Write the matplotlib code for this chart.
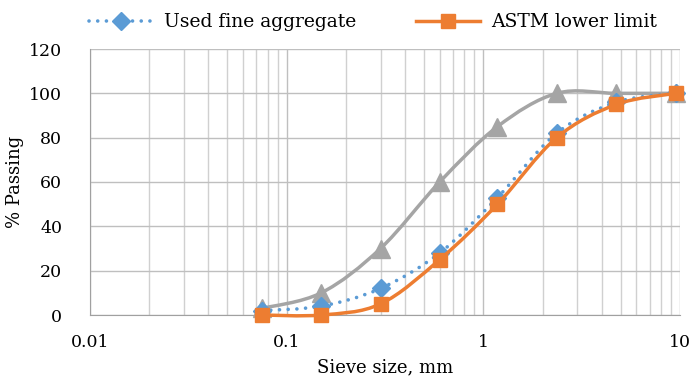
import matplotlib

matplotlib.use("Agg")
import matplotlib.pyplot as plt
import numpy as np
from matplotlib.patches import PathPatch
from matplotlib.path import Path
from matplotlib.ticker import FixedLocator, LogLocator, NullFormatter

sieve_mm = [0.075, 0.15, 0.3, 0.6, 1.18, 2.36, 4.75, 9.5]
used_fine = [2, 4, 12, 28, 53, 82, 96, 100]
astm_lower = [0, 0, 5, 25, 50, 80, 95, 100]
astm_upper = [3, 10, 30, 60, 85, 100, 100, 100]

BLUE = "#5B9BD5"
ORANGE = "#ED7D31"
GRAY = "#A5A5A5"

plt.rcParams["font.family"] = ["DejaVu Serif"]


def smooth_path(xs, ys):
    # Catmull-Rom style bezier in (log x, y) space, like spreadsheet smoothed lines
    lx = np.log10(xs)
    ys = np.asarray(ys, dtype=float)
    pts = np.column_stack([lx, ys])
    verts = [pts[0]]
    codes = [Path.MOVETO]
    n = len(pts)
    for i in range(n - 1):
        p0 = pts[max(i - 1, 0)]
        p1 = pts[i]
        p2 = pts[i + 1]
        p3 = pts[min(i + 2, n - 1)]
        c1 = p1 + (p2 - p0) / 6.0
        c2 = p2 - (p3 - p1) / 6.0
        verts += [c1, c2, p2]
        codes += [Path.CURVE4] * 3
    verts = np.array(verts)
    verts[:, 0] = 10 ** verts[:, 0]
    return Path(verts, codes)


fig = plt.figure(figsize=(6.94, 3.86), dpi=100)
ax = fig.add_axes([90 / 694, 71 / 386, 590 / 694, 266 / 386])
ax.set_xscale("log")
ax.set_xlim(0.01, 10)
ax.set_ylim(0, 120)

dotted = (0, (0.01, 2.4))
series = [
    (used_fine, BLUE, "D", 9, dotted, 2.6, "Used fine aggregate", 3),
    (astm_lower, ORANGE, "s", 10, "-", 2.5, "ASTM lower limit", 4),
    (astm_upper, GRAY, "^", 13, "-", 2.5, "ASTM upper limit", 2),
]
handles = []
for vals, color, marker, ms, ls, lw, label, z in series:
    patch = PathPatch(smooth_path(sieve_mm, vals), facecolor="none", edgecolor=color,
                      linestyle=ls, linewidth=lw, capstyle="round", zorder=z, clip_on=False)
    ax.add_patch(patch)
    ax.plot(sieve_mm, vals, linestyle="none", marker=marker, markersize=ms,
            color=color, zorder=z + 0.5, clip_on=False)
    handles.append(plt.Line2D([], [], color=color, linestyle=ls, linewidth=lw,
                              dash_capstyle="round", marker=marker, markersize=ms,
                              label=label))

ax.yaxis.set_major_locator(FixedLocator(np.arange(0, 121, 20)))
ax.xaxis.set_major_locator(FixedLocator([0.01, 0.1, 1, 10]))
ax.set_xticklabels(["0.01", "0.1", "1", "10"])
ax.xaxis.set_minor_locator(LogLocator(base=10, subs=np.arange(2, 10)))
ax.xaxis.set_minor_formatter(NullFormatter())
ax.grid(True, which="major", color="#BFBFBF", linewidth=1.0)
ax.grid(True, which="minor", axis="x", color="#D0D0D0", linewidth=1.0)
ax.set_axisbelow(True)
ax.tick_params(which="both", length=0, labelsize=12.5)
ax.tick_params(axis="y", pad=20)
ax.tick_params(axis="x", pad=14)
for side in ("top", "right"):
    ax.spines[side].set_visible(False)
for side in ("left", "bottom"):
    ax.spines[side].set_color("#A0A0A0")

ax.set_xlabel("Sieve size, mm", fontsize=13, labelpad=5)
ax.set_ylabel("% Passing", fontsize=13, labelpad=4)

fig.legend(handles=handles[:2], loc="upper left", bbox_to_anchor=(76 / 694, 1.0),
           ncol=2, frameon=False, fontsize=13.5, handlelength=3.4, columnspacing=3.2,
           handletextpad=0.6, borderaxespad=0.3)

fig.savefig("out.png", dpi=100)
